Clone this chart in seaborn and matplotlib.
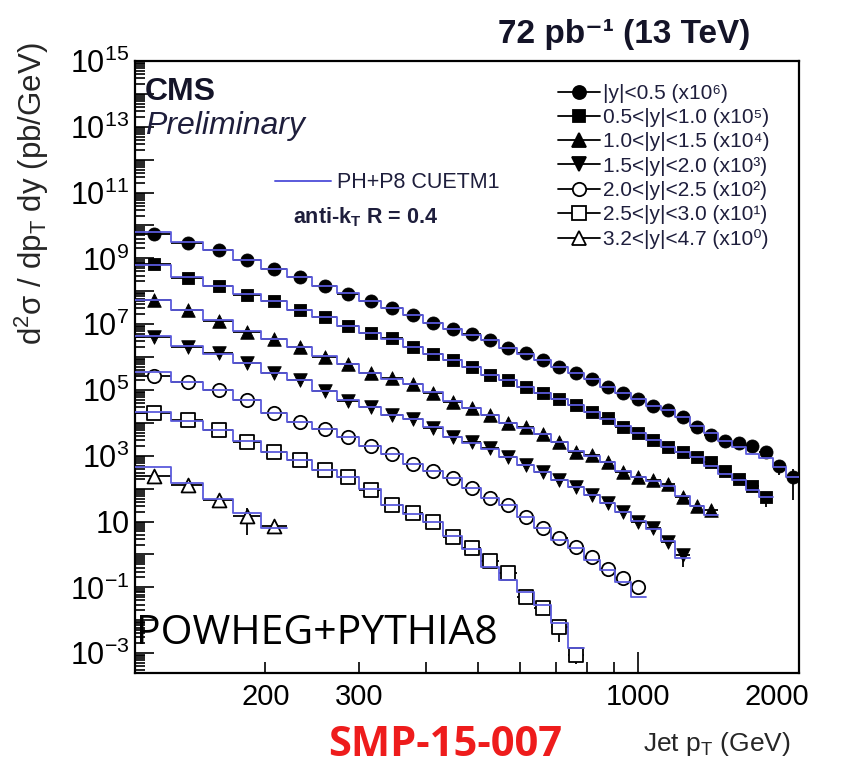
import numpy as np
import matplotlib
matplotlib.use("Agg")
import matplotlib.pyplot as plt
from matplotlib.lines import Line2D
from matplotlib.transforms import ScaledTranslation
from matplotlib.ticker import LogLocator, FixedLocator, FuncFormatter, NullFormatter
import seaborn as sns

# Jet pT bin edges (GeV)
pt_edges = [114, 133, 153, 174, 196, 220, 245, 272, 300, 330, 362, 395, 430, 468,
            507, 548, 592, 638, 686, 737, 790, 846, 905, 967, 1032, 1101, 1172,
            1248, 1327, 1410, 1497, 1588, 1684, 1784, 1890, 2000]

# Measured double-differential cross sections (pb/GeV), unscaled
xsec_y00_05 = [5.52e3, 3.04e3, 1.80e3, 8.93e2, 4.76e2, 2.72e2, 1.50e2, 85.7, 50.7, 31.0,
               18.4, 11.1, 7.00, 4.93, 3.31, 1.93, 1.31, 0.817, 0.490, 0.336,
               0.211, 0.126, 0.0794, 0.0521, 0.0327, 0.0247, 0.0154, 0.00766, 0.00414, 0.00282,
               0.00240, 0.00199, 0.00133, 5.07e-4, 2.19e-4]
xsec_y05_10 = [6.6e3, 2.6e3, 1.42e3, 789, 497, 270, 169, 88.1, 52.8, 37.2,
               19.6, 12.7, 8.17, 4.83, 2.86, 2.01, 1.26, 0.794, 0.521, 0.350,
               0.219, 0.138, 0.0766, 0.0483, 0.0302, 0.0189, 0.0133, 0.00940, 0.00662, 0.00345,
               0.00197, 0.00121, 5.41e-4]
xsec_y10_15 = [5.44e3, 2.70e3, 1.28e3, 592, 348, 207, 103, 60.4, 32.2, 22.7,
               15.2, 8.39, 4.41, 2.78, 1.74, 0.973, 0.750, 0.460, 0.262, 0.133,
               0.106, 0.0662, 0.0329, 0.0232, 0.0190, 0.0140, 0.0055, 0.0029, 0.00225]
xsec_y15_20 = [4.17e3, 2.07e3, 1.31e3, 649, 336, 201, 93.3, 46.3, 31.0, 17.4,
               13.2, 7.24, 3.72, 2.54, 1.69, 0.940, 0.525, 0.329, 0.184, 0.115,
               0.0644, 0.0360, 0.0200, 0.00993, 0.00625, 0.00245, 9.66e-4]
xsec_y20_25 = [2.67e3, 1.79e3, 1.00e3, 497, 196, 109, 63.8, 36.5, 19.9, 11.4,
               5.64, 3.45, 2.07, 1.03, 0.511, 0.320, 0.141, 0.0625, 0.0318, 0.0173,
               0.00857, 0.00362, 0.00189, 9.93e-4]
xsec_y25_30 = [1.96e3, 1.22e3, 608, 269, 133, 74.5, 37.0, 23.2, 9.12, 3.20,
               1.79, 0.993, 0.348, 0.154, 0.0634, 0.0269, 0.00521, 0.00237, 6.38e-4, 8.81e-5]
xsec_y32_47 = [243, 129, 45.4, 14.8, 7.35]

# Relative uncertainties of the measurement
err_y00_05 = [0.03, 0.03, 0.03, 0.03, 0.03, 0.03, 0.03, 0.03, 0.03, 0.03,
              0.03, 0.03, 0.03, 0.03, 0.03, 0.03, 0.03, 0.03, 0.04, 0.04,
              0.04, 0.04, 0.05, 0.05, 0.05, 0.06, 0.07, 0.08, 0.09, 0.10,
              0.12, 0.14, 0.20, 0.50, 0.80]
err_y05_10 = [0.03, 0.03, 0.03, 0.03, 0.03, 0.03, 0.03, 0.03, 0.03, 0.03,
              0.03, 0.03, 0.03, 0.03, 0.03, 0.03, 0.04, 0.04, 0.04, 0.04,
              0.05, 0.05, 0.06, 0.06, 0.07, 0.08, 0.09, 0.10, 0.12, 0.15,
              0.18, 0.25, 0.50]
err_y10_15 = [0.04, 0.03, 0.03, 0.03, 0.03, 0.03, 0.03, 0.03, 0.03, 0.03,
              0.03, 0.03, 0.04, 0.04, 0.04, 0.05, 0.05, 0.06, 0.06, 0.07,
              0.08, 0.09, 0.10, 0.12, 0.14, 0.15, 0.20, 0.25, 0.30]
err_y15_20 = [0.04, 0.04, 0.03, 0.03, 0.03, 0.03, 0.03, 0.03, 0.03, 0.04,
              0.04, 0.04, 0.05, 0.05, 0.06, 0.06, 0.07, 0.08, 0.09, 0.10,
              0.12, 0.14, 0.16, 0.20, 0.25, 0.30, 0.56]
err_y20_25 = [0.05, 0.04, 0.04, 0.04, 0.04, 0.04, 0.04, 0.04, 0.05, 0.05,
              0.05, 0.06, 0.06, 0.07, 0.08, 0.09, 0.10, 0.12, 0.14, 0.16,
              0.18, 0.20, 0.25, 0.30]
err_y25_30 = [0.05, 0.05, 0.05, 0.05, 0.05, 0.05, 0.06, 0.06, 0.07, 0.08,
              0.09, 0.10, 0.12, 0.14, 0.16, 0.20, 0.25, 0.30, 0.65, 0.45]
err_y32_47 = [0.15, 0.20, 0.25, 0.74, 0.35]

# POWHEG+PYTHIA8 (CUETM1) prediction, unscaled (pb/GeV)
theory_y00_05 = [6.34e3, 3.15e3, 1.80e3, 9.10e2, 4.70e2, 2.75e2, 1.48e2, 86.0, 51.5, 30.5,
                 18.6, 11.0, 7.10, 4.85, 3.30, 1.95, 1.28, 0.820, 0.495, 0.330,
                 0.210, 0.127, 0.0790, 0.0515, 0.0330, 0.0240, 0.0150, 0.00790, 0.00483, 0.00285,
                 0.00189, 0.00110, 8.8e-4, 4.47e-4, 2.32e-4]
theory_y05_10 = [6.3e3, 2.75e3, 1.40e3, 800, 490, 275, 165, 90.0, 53.5, 35.5,
                 19.8, 12.5, 8.0, 4.90, 2.90, 1.95, 1.25, 0.80, 0.515, 0.345,
                 0.215, 0.135, 0.078, 0.048, 0.0300, 0.0190, 0.0130, 0.0092, 0.0049, 0.0028,
                 0.00184, 9.1e-4, 5.71e-4]
theory_y10_15 = [5.6e3, 2.65e3, 1.30e3, 600, 345, 205, 105, 60.0, 33.0, 22.0,
                 15.0, 8.5, 4.5, 2.75, 1.70, 1.00, 0.72, 0.45, 0.26, 0.140,
                 0.100, 0.064, 0.035, 0.022, 0.017, 0.0125, 0.0058, 0.0030, 0.00159]
theory_y15_20 = [4.3e3, 2.10e3, 1.25e3, 640, 340, 195, 95, 48, 30, 17.8,
                 12.8, 7.3, 3.8, 2.5, 1.65, 0.95, 0.53, 0.33, 0.185, 0.112,
                 0.065, 0.036, 0.0195, 0.0102, 0.0060, 0.0026, 7.66e-4]
theory_y20_25 = [3.5e3, 1.75e3, 1.00e3, 480, 200, 110, 63, 37, 20, 11.2,
                 5.7, 3.4, 2.1, 1.02, 0.52, 0.31, 0.14, 0.064, 0.0276, 0.0154,
                 0.00681, 0.00338, 0.00149, 5.21e-4]
theory_y25_30 = [2.2e3, 1.15e3, 620, 280, 130, 72, 38, 22, 9.5, 3.3,
                 1.75, 0.95, 0.36, 0.15, 0.0426, 0.0168, 0.00740, 0.00292, 8.11e-4, 1.41e-4]
theory_y32_47 = [467, 146, 48.6, 18.7, 6.25]

rapidity_labels = ["|y|<0.5", "0.5<|y|<1.0", "1.0<|y|<1.5", "1.5<|y|<2.0",
                   "2.0<|y|<2.5", "2.5<|y|<3.0", "3.2<|y|<4.7"]
scale_labels = ["x10⁶", "x10⁵", "x10⁴", "x10³", "x10²", "x10¹", "x10⁰"]
scale_exponents = [6, 5, 4, 3, 2, 1, 0]

measured = [xsec_y00_05, xsec_y05_10, xsec_y10_15, xsec_y15_20,
            xsec_y20_25, xsec_y25_30, xsec_y32_47]
uncertainties = [err_y00_05, err_y05_10, err_y10_15, err_y15_20,
                 err_y20_25, err_y25_30, err_y32_47]
predicted = [theory_y00_05, theory_y05_10, theory_y10_15, theory_y15_20,
             theory_y20_25, theory_y25_30, theory_y32_47]

marker_styles = [("o", True, 88), ("s", True, 74), ("^", True, 95), ("v", True, 95),
                 ("o", False, 92), ("s", False, 100), ("^", False, 100)]

theory_color = "#5a5adc"
text_color = "#1e1e3c"

sns.set_theme(style="ticks")
plt.rcParams["font.family"] = ["Liberation Sans", "DejaVu Sans"]
plt.rcParams["mathtext.fontset"] = "custom"
plt.rcParams["mathtext.rm"] = "Liberation Sans"
plt.rcParams["mathtext.it"] = "Liberation Sans:italic"
plt.rcParams["mathtext.bf"] = "Liberation Sans:bold"
plt.rcParams["mathtext.sf"] = "Liberation Sans"

fig = plt.figure(figsize=(8.51, 7.70), dpi=100)
ax = fig.add_axes([135 / 851, 97 / 770, 664 / 851, 612 / 770])
ax.set_xscale("log")
ax.set_yscale("log")
ax.set_xlim(114, 2000)
ax.set_ylim(2.5e-4, 1e15)

legend_handles = []
for label, scl, exp, vals, errs, theo, (mk, filled, size) in zip(
        rapidity_labels, scale_labels, scale_exponents, measured, uncertainties,
        predicted, marker_styles):
    n = len(vals)
    lo_edges = np.array(pt_edges[:n], dtype=float)
    hi_edges = np.array(pt_edges[1:n + 1], dtype=float)
    centers = 0.5 * (lo_edges + hi_edges)
    factor = 10.0 ** exp
    y = np.array(vals) * factor
    rel = np.array(errs)

    ax.errorbar(centers, y, xerr=[centers - lo_edges, hi_edges - centers],
                yerr=[y * rel, y * rel], fmt="none", ecolor="black",
                elinewidth=1.3, capsize=0, zorder=2)

    if filled:
        sns.scatterplot(x=centers, y=y, marker=mk, s=size, color="black",
                        edgecolor="black", linewidth=0.6, ax=ax, zorder=3, legend=False)
    else:
        sns.scatterplot(x=centers, y=y, marker=mk, s=size, facecolor="white",
                        edgecolor="black", linewidth=1.3, ax=ax, zorder=3, legend=False)

    step_x = pt_edges[:n + 1]
    step_y = list(np.array(theo) * factor) + [theo[-1] * factor]
    sns.lineplot(x=step_x, y=step_y, drawstyle="steps-post", color=theory_color,
                 linewidth=1.3, ax=ax, zorder=4, estimator=None, sort=False, legend=False)

    legend_handles.append(Line2D([], [], color="black", lw=1.3, marker=mk,
                                 markersize=np.sqrt(size),
                                 markerfacecolor="black" if filled else "white",
                                 markeredgecolor="black", markeredgewidth=1.3,
                                 label=f"{label} ({scl})"))

# Axes styling
for sp in ax.spines.values():
    sp.set_linewidth(1.6)
    sp.set_color("black")
ax.grid(False)

ax.yaxis.set_major_locator(LogLocator(base=10, numticks=40))
ax.yaxis.set_minor_locator(LogLocator(base=10, subs=np.arange(2, 10), numticks=40))


def ylab(v, pos):
    e = int(round(np.log10(v)))
    if e % 2 == 0:
        return ""
    if e == 1:
        return "$10$"
    return f"$10^{{{e}}}$"


ax.yaxis.set_major_formatter(FuncFormatter(ylab))
ax.yaxis.set_minor_formatter(NullFormatter())

ax.xaxis.set_major_locator(FixedLocator([1000]))
ax.xaxis.set_minor_locator(FixedLocator([200, 300, 400, 500, 600, 700, 800, 900, 2000]))
ax.xaxis.set_major_formatter(FuncFormatter(lambda v, p: "1000"))
ax.xaxis.set_minor_formatter(FuncFormatter(
    lambda v, p: f"{int(round(v))}" if int(round(v)) in (200, 300, 2000) else ""))

ax.tick_params(axis="both", which="both", direction="in", top=False, right=False,
               width=1.2, colors="black")
ax.tick_params(axis="y", which="major", length=14, labelsize=22, pad=4)
ax.tick_params(axis="y", which="minor", length=7)
ax.tick_params(axis="x", which="major", length=15, labelsize=21, pad=7)
ax.tick_params(axis="x", which="minor", length=8, labelsize=21, pad=7)

ax.set_ylabel(r"d$^{2}$σ / dp$_{\mathrm{T}}$ dy (pb/GeV)", fontsize=22.5)
ax.yaxis.label.set_rotation_mode("default")
ax.yaxis.label.set_horizontalalignment("center")
ax.yaxis.label.set_verticalalignment("top")
ax.yaxis.set_label_coords(-0.155, 1.03)

ax.set_xlabel(r"Jet p$_{\mathrm{T}}$ (GeV)", fontsize=19, loc="right")
ax.xaxis.set_label_coords(0.987, -0.093)

# Data legend
leg = ax.legend(handles=legend_handles, loc="upper left",
                bbox_to_anchor=((558 - 135) / 664, (673 - 84) / 612),
                frameon=False, fontsize=15, handlelength=2.0, handletextpad=0.15,
                labelspacing=0.25, borderpad=0, borderaxespad=0)
for t in leg.get_texts():
    t.set_color(text_color)
ax.add_artist(leg)

# Prediction legend
theory_handle = Line2D([], [], color=theory_color, lw=1.4, label="PH+P8 CUETM1")
leg2 = ax.legend(handles=[theory_handle], loc="center left",
                 bbox_to_anchor=((275 - 135) / 664, (673 - 183) / 612),
                 frameon=False, fontsize=15.5, handlelength=2.6, handletextpad=0.3,
                 borderpad=0, borderaxespad=0)
for t in leg2.get_texts():
    t.set_color(text_color)

ax.text((145 - 135) / 664, (673 - 92) / 612, "CMS", transform=ax.transAxes,
        fontsize=23, fontweight="bold", ha="left", va="center", color="#141428")
ax.text((145 - 135) / 664, (673 - 126) / 612, "Preliminary", transform=ax.transAxes,
        fontsize=23, fontstyle="italic", ha="left", va="center", color=text_color)
ax.text((293 - 135) / 664, (673 - 217) / 612, r"anti-k$_{\mathbf{T}}$ R = 0.4",
        transform=ax.transAxes, fontsize=15.5, fontweight="bold", ha="left",
        va="center", color=text_color)
ax.text(1 - (799 - 750) / 664, (673 - 35) / 612, "72 pb⁻¹ (13 TeV)",
        transform=ax.transAxes, fontsize=24, fontweight="bold", ha="right",
        va="center", color="#141428")

ax.text((136 - 135) / 664, (673 - 634) / 612, "POWHEG+PYTHIA8", transform=ax.transAxes,
        fontsize=29.5, family=["Open Sans", "DejaVu Sans"], ha="left", va="center",
        color="black", zorder=6)
fig.text(445 / 851, 1 - 745 / 770, "SMP-15-007", fontsize=30,
         family=["Open Sans", "DejaVu Sans"], fontweight="bold", color="#ee1c1c",
         ha="center", va="center")

# the outermost x label sits a little inside the frame edge
fig.canvas.draw()
for tick in ax.xaxis.get_minor_ticks():
    if tick.label1.get_text() == "2000":
        tick.label1.set_transform(tick.label1.get_transform()
                                  + ScaledTranslation(-0.22, 0, fig.dpi_scale_trans))

fig.savefig("out.png", dpi=100, facecolor="white")
